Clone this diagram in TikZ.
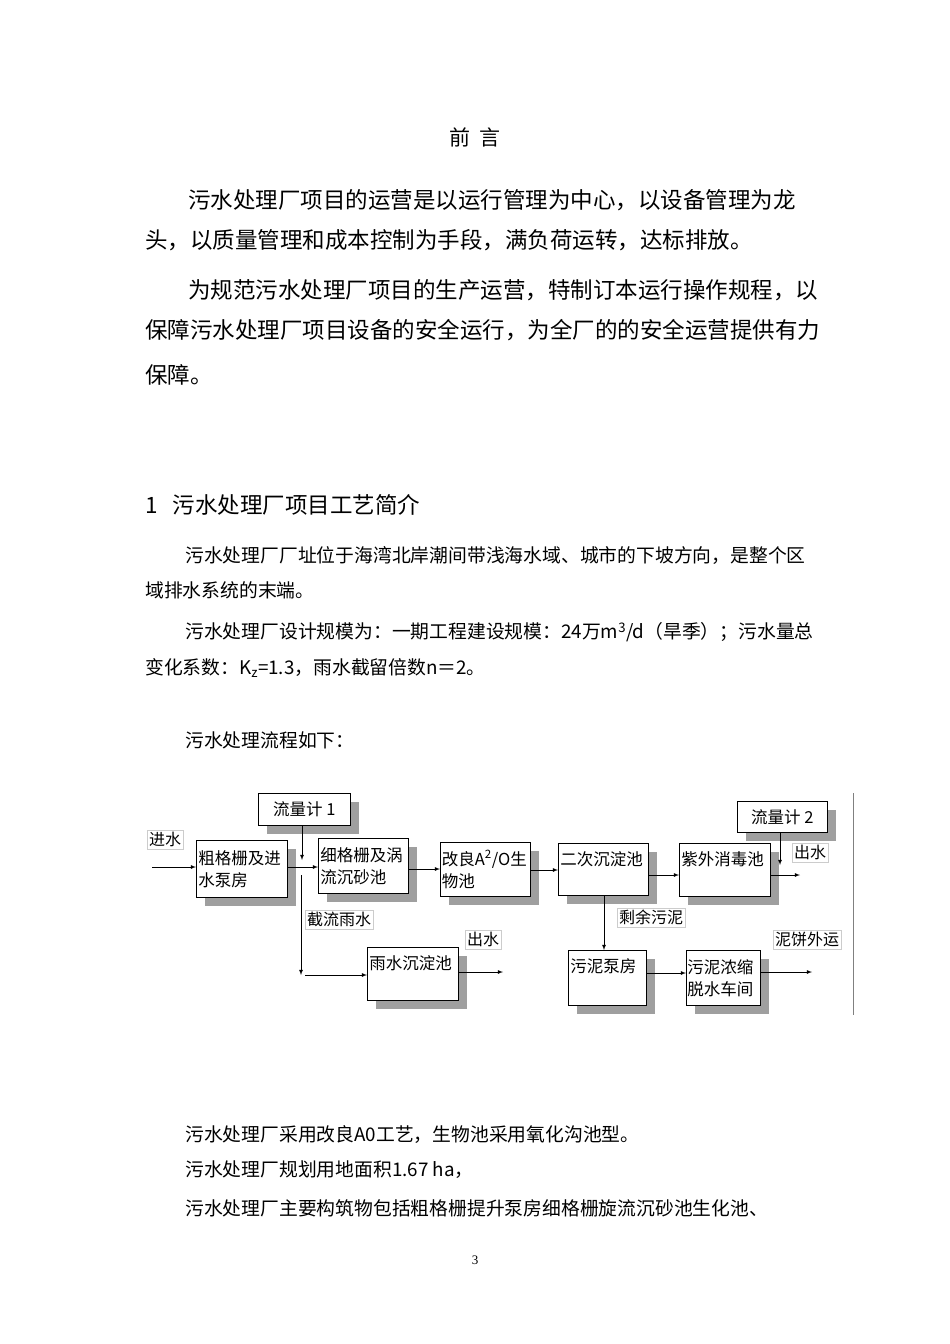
\documentclass[tikz,border=0pt]{standalone}
\usepackage{fontspec}
\setmainfont{Liberation Serif}
\newfontfamily\cjk{Noto Sans CJK SC}
\begin{document}
\begin{tikzpicture}[x=1pt,y=-1pt,
  box/.style={draw,thick,fill=white,anchor=north west,inner sep=0pt},
  lbl/.style={draw=gray!40,anchor=north west,inner sep=2pt,font=\cjk\fontsize{16}{19}\selectfont},
  arr/.style={-latex,thick},
  tl/.style={anchor=west,inner sep=0pt,font=\cjk\fontsize{22.5}{26}\selectfont},
  ts/.style={anchor=west,inner sep=0pt,font=\cjk\fontsize{18.8}{22}\selectfont}]
\useasboundingbox (0,0) rectangle (950,1344);
\node[font=\cjk\fontsize{21}{24}\selectfont] (title) at (475,137) {前\ \ 言};
\node[tl] (p1) at (188,200) {污水处理厂项目的运营是以运行管理为中心，以设备管理为龙};
\node[tl] (p2) at (145,240) {头，以质量管理和成本控制为手段，满负荷运转，达标排放。};
\node[tl] (p3) at (188,290) {为规范污水处理厂项目的生产运营，特制订本运行操作规程，以};
\node[tl] (p4) at (145,330) {保障污水处理厂项目设备的安全运行，为全厂的的安全运营提供有力};
\node[tl] (p5) at (145,375) {保障。};
\node[tl] (sec) at (145,505) {1\ \ \ 污水处理厂项目工艺简介};
\node[ts] (q1) at (185,555) {污水处理厂厂址位于海湾北岸潮间带浅海水域、城市的下坡方向，是整个区};
\node[ts] (q2) at (145,590) {域排水系统的末端。};
\node[ts] (q3) at (185,632) {污水处理厂设计规模为：一期工程建设规模：24万m\textsuperscript{3}/d（旱季）；污水量总};
\node[ts] (q4) at (145,668) {变化系数：K\textsubscript{z}=1.3，雨水截留倍数n＝2。};
\node[ts] (q5) at (185,740) {污水处理流程如下：};
\node[ts] (r1) at (185,1135) {污水处理厂采用改良A0工艺，生物池采用氧化沟池型。};
\node[ts] (r2) at (185,1170) {污水处理厂规划用地面积1.67 ha，};
\node[ts] (r3) at (185,1208) {污水处理厂主要构筑物包括粗格栅提升泵房细格栅旋流沉砂池生化池、};
\node[font=\fontsize{13}{15}\selectfont] (pg) at (475,1260) {3};
% diagram
\begin{scope}[font=\cjk\fontsize{16.5}{22}\selectfont]
\fill[gray!75] (267,802) rectangle (359,834);
\node[box,minimum width=92,minimum height=32,anchor=north west] (f1) at (258,793) {流量计 1};
\fill[gray!75] (746,810) rectangle (836,841);
\node[box,minimum width=90,minimum height=31] (f2) at (737,801) {流量计 2};
\fill[gray!75] (205,849) rectangle (296,906);
\node[box,minimum width=91,minimum height=57,text width=87,align=left,anchor=north west] (b1) at (196,840) {粗格栅及进\\水泵房};
\fill[gray!75] (327,847) rectangle (417,902);
\node[box,minimum width=90,minimum height=55,text width=86,align=left] (b2) at (318,838) {细格栅及涡\\流沉砂池};
\fill[gray!75] (449,851) rectangle (539,905);
\node[box,minimum width=90,minimum height=54,text width=87,align=left] (b3) at (440,842) {改良A\textsuperscript{2}/O生\\物池};
\fill[gray!75] (567,852) rectangle (657,904);
\node[box,minimum width=90,minimum height=52,text width=86,align=left,text depth=22pt] (b4) at (558,843) {二次沉淀池};
\fill[gray!75] (688,852) rectangle (779,905);
\node[box,minimum width=91,minimum height=53,text width=87,align=left,text depth=22pt] (b5) at (679,843) {紫外消毒池};
\fill[gray!75] (376,956) rectangle (467,1009);
\node[box,minimum width=91,minimum height=53,text width=87,align=left,text depth=22pt] (b6) at (367,947) {雨水沉淀池};
\fill[gray!75] (577,959) rectangle (655,1014);
\node[box,minimum width=78,minimum height=55,text width=74,align=left,text depth=24pt] (b7) at (568,950) {污泥泵房};
\fill[gray!75] (695,959) rectangle (769,1014);
\node[box,minimum width=74,minimum height=55,text width=72,align=left] (b8) at (686,950) {污泥浓缩\\脱水车间};
\end{scope}
\node[lbl] (l1) at (147,830) {进水};
\node[lbl] (l2) at (305,910) {截流雨水};
\node[lbl] (l3) at (465,930) {出水};
\node[lbl] (l4) at (792,843) {出水};
\node[lbl] (l5) at (617,908) {剩余污泥};
\node[lbl] (l6) at (773,930) {泥饼外运};
\coordinate (in) at (152,867);
\draw[arr] (in) -- (b1.west|-in);
\draw[arr] (b1.east|-in) -- (b2.west|-in);
\draw[arr] (f1.south-|302,0) -- (302,860);
\coordinate (s1) at (301,875);
\coordinate (s2) at (301,975);
\draw[arr] (s1) -- (s2);
\draw[arr] (305,975) -- (b6.west|-0,975);
\draw[arr] (b6.east|-0,972) -- (503,972);
\draw[arr] (b2.east|-0,869) -- (b3.west|-0,869);
\draw[arr] (b3.east|-0,870) -- (b4.west|-0,870);
\draw[arr] (b4.east|-0,875) -- (b5.west|-0,875);
\draw[arr] (b5.east|-0,875) -- (800,875);
\draw[arr] (f2.south-|780,0) -- (780,865);
\draw[arr] (b4.south-|604,0) -- (b7.north-|604,0);
\draw[arr] (b7.east|-0,973) -- (b8.west|-0,973);
\draw[arr] (b8.east|-0,972) -- (812,972);
\coordinate (v1) at (853,793); \coordinate (v2) at (853,1015);
\draw[gray] (v1) -- (v2);
\end{tikzpicture}
\end{document}
